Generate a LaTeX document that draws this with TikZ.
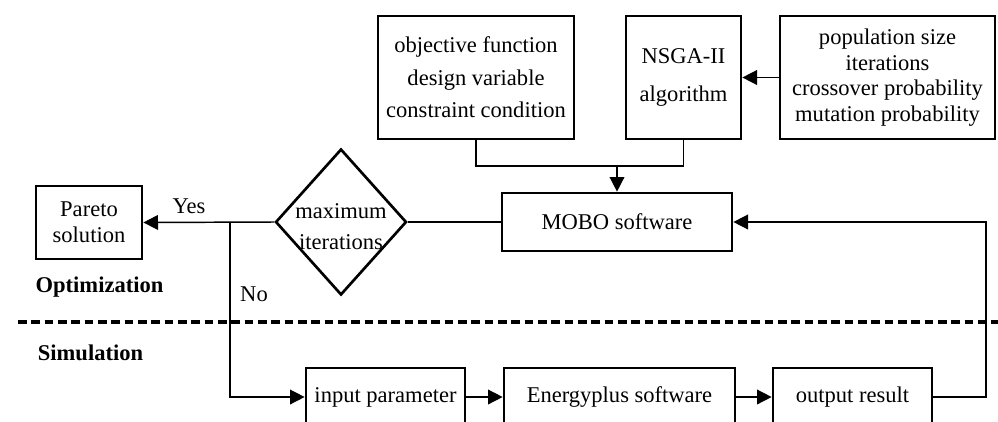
\documentclass[tikz,border=0pt]{standalone}
\usepackage{fontspec}
\setmainfont{Liberation Serif}
\usetikzlibrary{shapes.geometric,arrows.meta}
\begin{document}
\begin{tikzpicture}[x=0.75pt,y=-0.75pt,
  every node/.style={font=\fontsize{16.9}{20}\selectfont},
  box/.style={draw,line width=2pt,align=center,inner sep=0pt},
  conn/.style={line width=1.1pt},
  arr/.style={conn,-{Triangle[length=11pt,width=11pt]}},
  lbl/.style={align=center,inner sep=0pt},
  sect/.style={font=\fontsize{16.9}{20}\selectfont\bfseries,inner sep=0pt}]
\useasboundingbox (0,0) rectangle (998,421);
\clip (0,0) rectangle (998,421);
% top boxes
\node[box,minimum width=147pt,minimum height=92.25pt,
  font=\fontsize{16.9}{24.4}\selectfont] (obj) at (476,77.5)
  {objective function\\design variable\\constraint condition};
\node[box,minimum width=86.25pt,minimum height=92.25pt,
  font=\fontsize{16.9}{28.5}\selectfont] (nsga) at (683.5,77.5)
  {NSGA-II\\algorithm};
\node[box,minimum width=161.25pt,minimum height=92.25pt,
  font=\fontsize{16.9}{19.3}\selectfont] (pop) at (887.5,77.5)
  {population size\\iterations\\crossover probability\\mutation probability};
% middle row
\node[box,minimum width=172.5pt,minimum height=43.5pt] (mobo) at (617,222) {MOBO software};
\node[diamond,draw,line width=2pt,minimum width=98.25pt,minimum height=109.5pt,
  inner sep=0pt] (dia) at (341,222) {};
\node[lbl,font=\fontsize{16.9}{23.3}\selectfont] (diatext) at (341,227) {maximum\\iterations};
\node[box,minimum width=79.5pt,minimum height=54.75pt,
  font=\fontsize{16.9}{19.5}\selectfont] (pareto) at (89,222.5) {Pareto\\solution};
% bottom row
\node[box,minimum width=119.25pt,minimum height=43.5pt] (inp) at (385.5,397) {input parameter};
\node[box,minimum width=173.25pt,minimum height=43.5pt] (ep) at (619.5,397) {Energyplus software};
\node[box,minimum width=119.25pt,minimum height=43.5pt] (outr) at (852.5,397) {output result};
% labels
\node[lbl] (yes) at (189,206) {Yes};
\node[lbl] (no) at (254,294) {No};
\node[sect] (opt) at (99.5,287) {Optimization};
\node[sect] (sim) at (90.5,353) {Simulation};
% helper coordinates
\coordinate (jtop) at (617,166);
\coordinate (jno) at (230,222);
\coordinate (dl) at (18,322);
\coordinate (dr) at (998,322);
\coordinate (fb) at (986,222);
% connectors
\draw[conn] (obj.south) |- (jtop);
\draw[conn] (nsga.south) |- (jtop);
\draw[arr] (jtop) -- (mobo.north);
\draw[arr] (pop.west) -- (nsga.east);
\draw[conn] (mobo.west) -- (dia.east);
\draw[arr] (dia.west) -- (pareto.east);
\draw[arr] (jno) |- (inp.west);
\draw[arr] (inp.east) -- (ep.west);
\draw[arr] (ep.east) -- (outr.west);
\draw[arr] (outr.east) -| (fb) -- (mobo.east);
% dashed separator
\draw[line width=2.6pt,dash pattern=on 6.4pt off 3.6pt] (dl) -- (dr);
\end{tikzpicture}
\end{document}
